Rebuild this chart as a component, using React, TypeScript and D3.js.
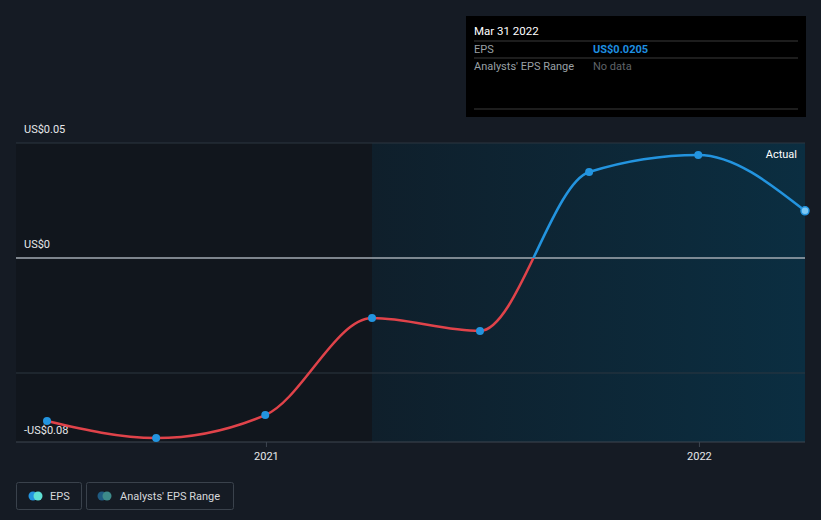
import React from "react";
import * as d3 from "d3";

const dates = ["2020-06-30", "2020-09-30", "2020-12-31", "2021-03-31", "2021-06-30", "2021-09-30", "2021-12-31", "2022-03-31"];
const eps = [-0.0709, -0.0783, -0.0683, -0.0261, -0.0317, 0.0374, 0.0448, 0.0205];
const yTicks = [0.05, 0, -0.05];
const yLabels = ["US$0.05", "US$0", "-US$0.08"];
const xTickDates = ["2021-01-01", "2022-01-01"];
const xTickLabels = ["2021", "2022"];
const forecastStart = "2021-03-31";

const W = 821, H = 520;
const left = 16, right = 805, top = 143, bottom = 442;

export default function App() {
  const parse = d3.utcParse("%Y-%m-%d");
  const ds = dates.map((d) => parse(d)!);
  const x = d3.scaleUtc().domain([parse("2020-06-30")!, parse("2022-03-31")!]).range([47, 805]);
  const y = d3.scaleLinear().domain([-0.08, 0.05]).range([bottom, top]);
  const pts = ds.map((d, i) => [x(d), y(eps[i])] as [number, number]);
  const line = d3.line().curve(d3.curveMonotoneX)(pts) || "";
  const y0 = y(0);
  const xs = x(parse(forecastStart)!);
  const font = "Roboto, 'Open Sans', sans-serif";
  return (
    <svg width={W} height={H} style={{ display: "block", position: "absolute", left: 0, top: 0, background: "#151b24", fontFamily: font }}>
      <defs>
        <linearGradient id="pastGrad" x1="0" x2="1" y1="0" y2="0">
          <stop offset="0" stopColor="#0f1f2b" />
          <stop offset="1" stopColor="#0b2e41" />
        </linearGradient>
        <clipPath id="above"><rect x={0} y={0} width={W} height={y0} /></clipPath>
        <clipPath id="below"><rect x={0} y={y0} width={W} height={H - y0} /></clipPath>
      </defs>
      <rect x={0} y={0} width={W} height={H} fill="#151b24" />
      <rect x={left} y={top} width={xs - left} height={bottom - top} fill="#11161d" />
      <rect x={xs} y={top} width={right - xs} height={bottom - top} fill="url(#pastGrad)" />
      {yTicks.map((t, i) => (
        <line key={i} x1={left} x2={right} y1={y(t)} y2={y(t)} stroke={t === 0 ? "#a3abb3" : "#2c3640"} strokeWidth={t === 0 ? 1.5 : 1} />
      ))}
      <line x1={left} x2={right} y1={bottom} y2={bottom} stroke="#3e4650" strokeWidth={1} />
      {yLabels.map((l, i) => {
        const v = i === 2 ? -0.08 : yTicks[i];
        return (
          <text key={l} x={24} y={y(v) - (i === 2 ? 8 : 10)} fill="#e6e8ea" fontSize={11}>{l}</text>
        );
      })}
      {xTickDates.map((d, i) => {
        const xx = x(parse(d)!);
        return (
          <g key={d}>
            <line x1={xx} x2={xx} y1={bottom} y2={bottom + 5} stroke="#3e4650" />
            <text x={xx} y={460} textAnchor="middle" fill="#e6e8ea" fontSize={11}>{xTickLabels[i]}</text>
          </g>
        );
      })}
      <text x={797} y={158} textAnchor="end" fill="#ffffff" fontSize={11}>Actual</text>
      <path d={line} fill="none" stroke="#e0434a" strokeWidth={2.5} clipPath="url(#below)" />
      <path d={line} fill="none" stroke="#2394df" strokeWidth={2.5} clipPath="url(#above)" />
      {pts.map((p, i) =>
        i === pts.length - 1 ? (
          <circle key={i} cx={p[0]} cy={p[1]} r={4} fill="#7cc8f5" stroke="#2394df" strokeWidth={1.5} />
        ) : (
          <circle key={i} cx={p[0]} cy={p[1]} r={4} fill="#2394df" />
        )
      )}
      {/* tooltip */}
      <rect x={466} y={16} width={340} height={101} fill="#000000" />
      <text x={474} y={35} fill="#ffffff" fontSize={11.5}>Mar 31 2022</text>
      <line x1={474} x2={798} y1={41} y2={41} stroke="#3a3a3a" />
      <text x={474} y={53} fill="#9aa0a6" fontSize={11}>EPS</text>
      <text x={593} y={53} fill="#1e8fe0" fontSize={11} fontWeight="bold">US$0.0205</text>
      <line x1={474} x2={798} y1={58} y2={58} stroke="#3a3a3a" />
      <text x={474} y={70} fill="#9aa0a6" fontSize={11}>Analysts' EPS Range</text>
      <text x={593} y={70} fill="#5f6368" fontSize={11}>No data</text>
      <line x1={474} x2={798} y1={109} y2={109} stroke="#3a3a3a" />
      {/* legend */}
      <rect x={16.5} y={482.5} width={65} height={27} rx={2} fill="none" stroke="#3a424c" />
      <circle cx={33} cy={496} r={4.5} fill="#2394df" />
      <circle cx={38} cy={496} r={4.5} fill="#5fe0d4" />
      <text x={50} y={500} fill="#d5d8db" fontSize={11}>EPS</text>
      <rect x={86.5} y={482.5} width={147} height={27} rx={2} fill="none" stroke="#3a424c" />
      <circle cx={102} cy={496} r={4.5} fill="#1f5b82" />
      <circle cx={107} cy={496} r={4.5} fill="#3d8a8a" />
      <text x={120} y={500} fill="#d5d8db" fontSize={11}>Analysts' EPS Range</text>
    </svg>
  );
}
